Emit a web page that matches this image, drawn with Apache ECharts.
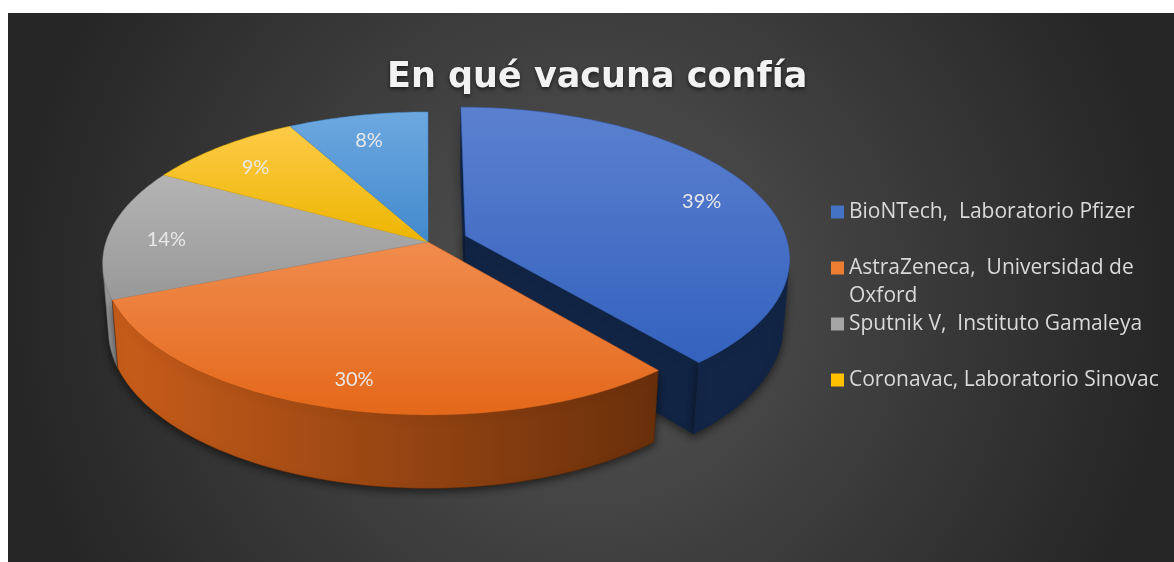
<!DOCTYPE html>
<html>
<head>
<meta charset="utf-8">
<script src="https://cdn.jsdelivr.net/npm/echarts@6/dist/echarts.min.js"></script>
<style>
  html, body { margin: 0; padding: 0; background: #ffffff; }
  #vacunas_chart { position: absolute; left: 8px; top: 13px; width: 1166px; height: 549px; }
</style>
</head>
<body>
<div id="vacunas_chart"></div>
<script>
// datos
const nombres = [
  'BioNTech,  Laboratorio Pfizer',
  'AstraZeneca,  Universidad de Oxford',
  'Sputnik V,  Instituto Gamaleya',
  'Coronavac, Laboratorio Sinovac',
  'Otras'
]
const porcentajes = [39, 30, 14, 9, 8]
const leyenda = nombres.slice(0, 4) // la quinta no sale en la leyenda

// estilo de cada porcion
const colores = ['#4472c4', '#ed7d31', '#a5a5a5', '#ffc000', '#5b9bd5']
const caraSup = [['#5b80cf', '#3462be'], ['#f08c4e', '#e4681a'], ['#b4b4b4', '#989898'], ['#fdcb48', '#edb500'], ['#6da8e0', '#428acd']]
const pared = [['#1a2f59', '#122444'], ['#c95d1a', '#4f2307'], ['#999999', '#6a6a6a'], ['#b58a00', '#7a5c00'], ['#3f74a8', '#284d73']]
const separacion = [40, 0, 0, 0, 0]
const lineasLeyenda = [1, 2, 1, 1] // AstraZeneca ocupa dos renglones

// geometria del pastel 3D (px)
const CX = 420, CY = 229, R = 322, H = 76
const SIN = 0.461, COS = 0.887, DIST = 2017

function proj (x, y, z) {
  const depth = y * COS - z * SIN
  const up = y * SIN + z * COS
  const s = DIST / (DIST + depth)
  return [CX + x * s, CY - up * s]
}
function depthOf (x, y, z) {
  return y * COS - z * SIN
}
// camara en coordenadas del mundo
const CAM = [0, -DIST * COS, DIST * SIN]

// limites acumulados de cada porcion
const total = porcentajes.reduce((a, b) => a + b, 0)
const limites = []
let acum = 0
porcentajes.forEach(v => {
  limites.push([acum / total, (acum + v) / total])
  acum += v
})

function renderSlice (params, api) {
  const i = params.seriesIndex
  const a0 = api.value(0) * Math.PI * 2
  const a1 = api.value(1) * Math.PI * 2
  const mid = (a0 + a1) / 2
  const e = separacion[i]
  const ox = e * Math.sin(mid)
  const oy = e * Math.cos(mid)
  const P = (x, y, z) => proj(x + ox, y + oy, z)
  const children = []

  const n = Math.max(2, Math.ceil((a1 - a0) / (Math.PI / 180)))
  const arc = []
  for (let k = 0; k <= n; k++) {
    const t = a0 + (a1 - a0) * k / n
    arc.push([Math.sin(t), Math.cos(t)])
  }

  // pared exterior (solo la parte que mira a la camara)
  let run = []
  const runs = []
  arc.forEach(p => {
    const px = R * p[0] + ox
    const py = R * p[1] + oy
    const dot = p[0] * (CAM[0] - px) + p[1] * (CAM[1] - py)
    if (dot > 0) {
      run.push(p)
    } else if (run.length) {
      runs.push(run)
      run = []
    }
  })
  if (run.length) runs.push(run)
  runs.forEach(r => {
    if (r.length < 2) return
    const topPts = r.map(p => P(R * p[0], R * p[1], 0))
    const botPts = r.map(p => P(R * p[0], R * p[1], -H)).reverse()
    let d = 0
    r.forEach(p => { d += depthOf(R * p[0] + ox, R * p[1] + oy, -H / 2) })
    d = d / r.length
    children.push({
      type: 'polygon',
      z2: 50 - d / 10,
      shape: { points: topPts.concat(botPts) },
      style: {
        fill: new echarts.graphic.LinearGradient(CX - R, 0, CX + R + 60, 0, [
          { offset: 0, color: pared[i][0] },
          { offset: 1, color: pared[i][1] }
        ], true),
        stroke: pared[i][1],
        lineWidth: 0.5,
        shadowBlur: 8,
        shadowOffsetY: 3,
        shadowColor: 'rgba(0,0,0,0.55)'
      }
    })
  })

  // paredes radiales: solo cuando la porcion o su vecina esta separada
  const prev = (i + separacion.length - 1) % separacion.length
  const next = (i + 1) % separacion.length
  const walls = []
  if (e > 0 || separacion[prev] > 0) walls.push({ t: a0, nx: -Math.cos(a0), ny: Math.sin(a0) })
  if (e > 0 || separacion[next] > 0) walls.push({ t: a1, nx: Math.cos(a1), ny: -Math.sin(a1) })
  walls.forEach(w => {
    const dot = w.nx * (CAM[0] - ox) + w.ny * (CAM[1] - oy)
    if (dot <= 0.5) return
    const ex = R * Math.sin(w.t)
    const ey = R * Math.cos(w.t)
    const pts = [P(0, 0, 0), P(ex, ey, 0), P(ex, ey, -H), P(0, 0, -H)]
    const d = depthOf(ex / 2 + ox, ey / 2 + oy, -H / 2)
    children.push({
      type: 'polygon',
      z2: 50 - d / 10,
      shape: { points: pts },
      style: {
        fill: pared[i][1],
        stroke: pared[i][1],
        lineWidth: 0.5,
        shadowBlur: 8,
        shadowOffsetY: 3,
        shadowColor: 'rgba(0,0,0,0.5)'
      }
    })
  })

  // cara superior
  const top = [P(0, 0, 0)].concat(arc.map(p => P(R * p[0], R * p[1], 0)))
  children.push({
    type: 'polygon',
    z2: 100,
    shape: { points: top },
    style: {
      fill: new echarts.graphic.LinearGradient(0, 0, 0, 1, [
        { offset: 0, color: caraSup[i][0] },
        { offset: 1, color: caraSup[i][1] }
      ]),
      stroke: caraSup[i][1],
      lineWidth: 0.5
    }
  })

  // etiqueta de porcentaje
  const lp = P(R * 0.82 * Math.sin(mid), R * 0.82 * Math.cos(mid), 0)
  children.push({
    type: 'text',
    z2: 110,
    x: lp[0],
    y: lp[1] + 5,
    style: {
      text: Math.round((api.value(1) - api.value(0)) * 100) + '%',
      fill: '#e8e8e8',
      font: '20px Lato',
      align: 'center',
      verticalAlign: 'middle'
    }
  })

  return { type: 'group', children: children }
}

const dom = document.getElementById('vacunas_chart')
const myChart = echarts.init(dom)

const seriesData = nombres.map((nombre, i) => ({
  name: nombre,
  type: 'custom',
  coordinateSystem: 'none',
  renderItem: renderSlice,
  itemStyle: { color: colores[i] },
  data: [limites[i]],
  silent: true
}))

// una leyenda por entrada, separadas 56px; el texto largo se parte en dos renglones
// (rich activa el relleno superior para que el cuadrito quede en el primer renglon)
const LINEA = 28
const legendList = leyenda.map((nombre, k) => ({
  orient: 'vertical',
  left: 823,
  top: 185 + 56 * k - (lineasLeyenda[k] - 1) * LINEA,
  padding: 0,
  icon: 'rect',
  itemWidth: 13,
  itemHeight: 13,
  selectedMode: false,
  data: [nombre],
  textStyle: {
    color: '#d9d9d9',
    fontFamily: 'Open Sans',
    fontSize: 21,
    lineHeight: LINEA,
    width: 330,
    overflow: 'break',
    padding: [(lineasLeyenda[k] - 1) * LINEA, 0, 0, 0],
    rich: { t: {} }
  }
}))

const option = {
  backgroundColor: {
    type: 'radial',
    x: 0.5,
    y: 0.52,
    r: 1.05,
    colorStops: [
      { offset: 0, color: '#555555' },
      { offset: 1, color: '#262626' }
    ]
  },
  animation: false,
  title: {
    text: 'En qué vacuna confía',
    left: 379,
    top: 47,
    padding: 0,
    textStyle: {
      color: '#f2f2f2',
      fontFamily: 'DejaVu Sans',
      fontWeight: 'bold',
      fontSize: 35,
      textShadowColor: 'rgba(0,0,0,0.6)',
      textShadowBlur: 4,
      textShadowOffsetY: 2
    }
  },
  legend: legendList,
  series: seriesData
}

myChart.setOption(option)
window.onresize = function () {
  myChart.resize()
}
</script>
</body>
</html>
